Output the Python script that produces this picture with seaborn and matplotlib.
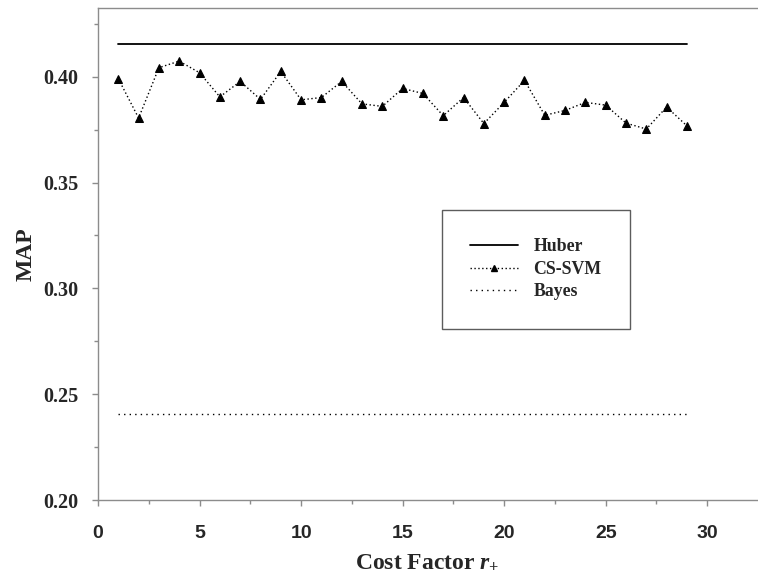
import matplotlib
matplotlib.use("Agg")
import matplotlib.pyplot as plt
import seaborn as sns
import pandas as pd
from matplotlib.ticker import MultipleLocator
from matplotlib.lines import Line2D

# ---- data ----
cost_factor = list(range(1, 30))
cs_svm = [0.3991, 0.3805, 0.4043, 0.4074, 0.4019, 0.3905, 0.3978, 0.3893, 0.4025,
          0.3891, 0.3902, 0.3978, 0.3872, 0.3860, 0.3945, 0.3921, 0.3816, 0.3902,
          0.3779, 0.3879, 0.3983, 0.3818, 0.3841, 0.3879, 0.3866, 0.3781, 0.3753,
          0.3857, 0.3768]
huber_value = 0.4157
bayes_value = 0.2407
huber = [huber_value] * len(cost_factor)
bayes = [bayes_value] * len(cost_factor)
series_names = ["Huber", "CS-SVM", "Bayes"]
y_ticks = [0.20, 0.25, 0.30, 0.35, 0.40]
x_ticks = [0, 5, 10, 15, 20, 25, 30]

df = pd.DataFrame({"x": cost_factor, "Huber": huber, "CS-SVM": cs_svm, "Bayes": bayes})

sns.set_style("ticks")
plt.rcParams["mathtext.fontset"] = "custom"
plt.rcParams["mathtext.rm"] = "Liberation Serif:bold"
plt.rcParams["mathtext.it"] = "Liberation Serif:italic:bold"
plt.rcParams["font.family"] = ["Liberation Serif", "DejaVu Serif"]

fig = plt.figure(figsize=(7.58, 5.84), dpi=100)
ax = fig.add_axes([98 / 758, 1 - 500 / 584, 659 / 758, 492 / 584])

sns.lineplot(data=df, x="x", y="Huber", ax=ax, color="black", linewidth=1.3,
             linestyle="-")
sns.lineplot(data=df, x="x", y="CS-SVM", ax=ax, color="black", linewidth=1.0,
             linestyle=(0, (1, 1.8)), marker="^", markersize=5.3,
             markeredgecolor="black", markerfacecolor="black")
sns.lineplot(data=df, x="x", y="Bayes", ax=ax, color="black", linewidth=1.0,
             linestyle=(0, (1, 3)))

ax.set_xlim(0, 32.45)
ax.set_ylim(0.20, 0.4325)
ax.set_xticks(x_ticks)
ax.set_yticks(y_ticks)
ax.set_yticklabels([f"{v:.2f}" for v in y_ticks])
ax.xaxis.set_minor_locator(MultipleLocator(2.5))
ax.yaxis.set_minor_locator(MultipleLocator(0.025))

spine_color = "#8c8c8c"
for side in ["left", "bottom", "top"]:
    ax.spines[side].set_color(spine_color)
    ax.spines[side].set_linewidth(1.0)
ax.spines["right"].set_visible(False)

ax.tick_params(axis="both", which="major", direction="out", length=4, width=1,
               color=spine_color)
ax.tick_params(axis="both", which="minor", direction="out", length=3, width=1,
               color=spine_color)
ax.tick_params(axis="y", pad=10)
ax.tick_params(axis="x", pad=14)
for lab in ax.get_yticklabels():
    lab.set_fontfamily(["Liberation Serif"])
    lab.set_fontweight("bold")
    lab.set_fontsize(14.5)
for lab in ax.get_xticklabels():
    lab.set_fontfamily(["Liberation Sans"])
    lab.set_fontweight("bold")
    lab.set_fontsize(14)

ax.set_xlabel(r"Cost Factor $r_{+}$", fontsize=17, fontweight="bold", labelpad=7)
ax.set_ylabel("MAP", fontsize=17, fontweight="bold", labelpad=5)

handles = [
    Line2D([], [], color="black", linewidth=1.3, linestyle="-"),
    Line2D([], [], color="black", linewidth=1.0, linestyle=(0, (1, 1.8)),
           marker="^", markersize=4.5, markerfacecolor="black"),
    Line2D([], [], color="black", linewidth=1.0, linestyle=(0, (1, 3))),
]
leg = ax.legend(handles, series_names, loc="upper left",
                bbox_to_anchor=((442 - 98) / 659, (500 - 210) / 492),
                frameon=True, fancybox=False, shadow=False,
                prop={"family": "Liberation Serif", "weight": "bold", "size": 12.8},
                handlelength=2.7, handletextpad=0.85, borderpad=1.6,
                labelspacing=0.3, borderaxespad=0)
leg.get_frame().set_edgecolor("#333333")
leg.get_frame().set_linewidth(1.0)

fig.savefig("out.png", dpi=100)
